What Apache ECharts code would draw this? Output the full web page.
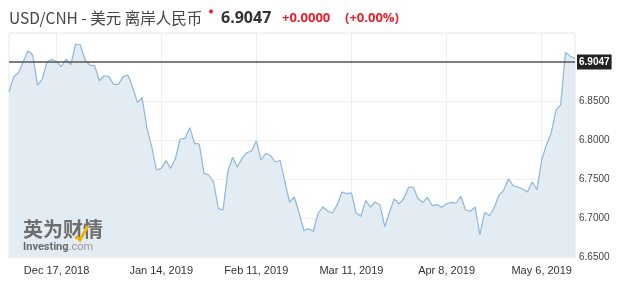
<!DOCTYPE html>
<html>
<head>
<meta charset="utf-8">
<script src="https://cdn.jsdelivr.net/npm/echarts@6/dist/echarts.min.js"></script>
<style>
  html, body { margin: 0; padding: 0; background: #fff; }
  #chart { width: 630px; height: 287px; }
</style>
</head>
<body>
<div id="chart"></div>
<script>
// Trading days shown on the x axis
const dates = [
  '2018-12-03','2018-12-04','2018-12-05','2018-12-06','2018-12-07',
  '2018-12-10','2018-12-11','2018-12-12','2018-12-13','2018-12-14',
  '2018-12-17','2018-12-18','2018-12-19','2018-12-20','2018-12-21',
  '2018-12-23','2018-12-24','2018-12-25','2018-12-26','2018-12-27','2018-12-28',
  '2018-12-30','2018-12-31','2019-01-01','2019-01-02','2019-01-03','2019-01-04',
  '2019-01-07','2019-01-08','2019-01-09','2019-01-10','2019-01-11',
  '2019-01-14','2019-01-15','2019-01-16','2019-01-17','2019-01-18',
  '2019-01-21','2019-01-22','2019-01-23','2019-01-24','2019-01-25',
  '2019-01-28','2019-01-29','2019-01-30','2019-01-31','2019-02-01',
  '2019-02-04','2019-02-05','2019-02-06','2019-02-07','2019-02-08',
  '2019-02-11','2019-02-12','2019-02-13','2019-02-14','2019-02-15',
  '2019-02-18','2019-02-19','2019-02-20','2019-02-21','2019-02-22',
  '2019-02-25','2019-02-26','2019-02-27','2019-02-28','2019-03-01',
  '2019-03-04','2019-03-05','2019-03-06','2019-03-07','2019-03-08',
  '2019-03-11','2019-03-12','2019-03-13','2019-03-14','2019-03-15',
  '2019-03-18','2019-03-19','2019-03-20','2019-03-21','2019-03-22',
  '2019-03-25','2019-03-26','2019-03-27','2019-03-28','2019-03-29',
  '2019-04-01','2019-04-02','2019-04-03','2019-04-04','2019-04-05',
  '2019-04-08','2019-04-09','2019-04-10','2019-04-11','2019-04-12',
  '2019-04-15','2019-04-16','2019-04-17','2019-04-18','2019-04-19',
  '2019-04-22','2019-04-23','2019-04-24','2019-04-25','2019-04-26',
  '2019-04-29','2019-04-30','2019-05-01','2019-05-02','2019-05-03',
  '2019-05-06','2019-05-07','2019-05-08','2019-05-09','2019-05-10',
  '2019-05-13','2019-05-14','2019-05-15'
];

// USD/CNH closing rate per day
const rates = [
  6.8619, 6.8812, 6.8863, 6.9004, 6.9145,
  6.9090, 6.8705, 6.8782, 6.9004, 6.9035,
  6.9004, 6.8940, 6.9038, 6.8962, 6.9231,
  6.9218, 6.9026, 6.8962, 6.8953, 6.8760, 6.8824,
  6.8812, 6.8714, 6.8714, 6.8812, 6.8833, 6.8676,
  6.8483, 6.8542, 6.8150, 6.7914, 6.7615,
  6.7637, 6.7735, 6.7637, 6.7765, 6.8013,
  6.8022, 6.8158, 6.7958, 6.7949, 6.7573,
  6.7551, 6.7465, 6.7124, 6.7103, 6.7594,
  6.7778, 6.7650, 6.7765, 6.7837, 6.7859,
  6.7990, 6.7744, 6.7830, 6.7799, 6.7718,
  6.7737, 6.7471, 6.7201, 6.7269, 6.7064,
  6.6842, 6.6863, 6.6830, 6.7064, 6.7141,
  6.7086, 6.7064, 6.7171, 6.7333, 6.7312,
  6.7321, 6.7064, 6.7022, 6.7222, 6.7141,
  6.7205, 6.7171, 6.6888, 6.7077, 6.7244,
  6.7183, 6.7247, 6.7394, 6.7397, 6.7247,
  6.7201, 6.7265, 6.7158, 6.7171, 6.7137,
  6.7183, 6.7201, 6.7192, 6.7278, 6.7106,
  6.7086, 6.7141, 6.6786, 6.7071, 6.7029,
  6.7128, 6.7291, 6.7355, 6.7500, 6.7414,
  6.7397, 6.7372, 6.7333, 6.7462, 6.7363,
  6.7747, 6.7940, 6.8090, 6.8381, 6.8453,
  6.9124, 6.9073, 6.9047
];

// Dates that get a label and a vertical grid line
const labelDates = ['2018-12-17','2019-01-14','2019-02-11','2019-03-11','2019-04-08','2019-05-06'];

// Price-axis range and step
const yMin = 6.65;
const yMax = 6.9372;
const yStep = 0.05;

const lastRate = 6.9047;
const changeText = '+0.0000';
const changePct = '(+0.00%)';
const titleText = 'USD/CNH - 美元 离岸人民币';

const monthNames = ['Jan','Feb','Mar','Apr','May','Jun','Jul','Aug','Sep','Oct','Nov','Dec'];
function fmtDate(s) {
  const [y, m, d] = s.split('-').map(Number);
  return monthNames[m - 1] + ' ' + d + ', ' + y;
}
const showAt = (idx, val) => labelDates.indexOf(val) >= 0;

const chart = echarts.init(document.getElementById('chart'), null, { renderer: 'canvas' });

chart.setOption({
  animation: false,
  backgroundColor: '#ffffff',
  grid: { left: 9, right: 55, top: 33, bottom: 30, show: true, borderColor: '#e8e8e8', borderWidth: 1, backgroundColor: 'transparent' },
  graphic: [
    {
      type: 'text', left: 9, top: 10,
      style: { text: titleText, fontSize: 15.5, fontFamily: '"Noto Sans CJK SC", "Noto Sans", sans-serif', fill: '#454545' }
    },
    {
      type: 'polygon', shape: { points: [[211, 9], [213.5, 11.5], [211, 14], [208.5, 11.5]] },
      style: { fill: '#e8202e' }
    },
    {
      type: 'text', left: 221, top: 10,
      style: { text: String(lastRate.toFixed(4)), fontSize: 16, fontWeight: 'bold', fontFamily: '"Open Sans", "Noto Sans", sans-serif', fill: '#333333' }
    },
    {
      type: 'text', left: 282, top: 12,
      style: { text: changeText, fontSize: 13, fontWeight: 'bold', fontFamily: '"Open Sans", "Noto Sans", sans-serif', fill: '#e8202e' }
    },
    {
      type: 'text', left: 345, top: 12,
      style: { text: changePct, fontSize: 13, fontWeight: 'bold', fontFamily: '"Open Sans", "Noto Sans", sans-serif', fill: '#e8202e' }
    },
    {
      type: 'text', left: 23, top: 219, z: 100,
      style: { text: '英为财情', fontSize: 20, fontWeight: 'bold', fontFamily: '"Noto Sans CJK SC", sans-serif', fill: '#6e6e6e' }
    },
    {
      type: 'polyline', z: 101,
      shape: { points: [[76, 236], [80, 240], [88, 226]] },
      style: { stroke: '#f2b200', lineWidth: 3, fill: null }
    },
    {
      type: 'text', left: 23, top: 242, z: 100,
      style: {
        text: '{a|Investing}{b|.com}',
        rich: {
          a: { fontSize: 11, fontWeight: 'bold', fontFamily: 'Roboto, "Liberation Sans", sans-serif', fill: '#6a6a6a' },
          b: { fontSize: 11, fontFamily: 'Roboto, "Liberation Sans", sans-serif', fill: '#9a9a9a' }
        }
      }
    }
  ],
  xAxis: {
    type: 'category',
    data: dates,
    boundaryGap: false,
    axisLine: { show: false },
    axisTick: { show: false },
    axisLabel: {
      interval: showAt,
      formatter: fmtDate,
      margin: 8,
      fontSize: 11,
      color: '#333',
      fontFamily: '"Liberation Sans", Arial, sans-serif'
    },
    splitLine: { show: true, interval: showAt, lineStyle: { color: '#eeeeee', width: 1 } }
  },
  yAxis: {
    type: 'value',
    position: 'right',
    min: yMin,
    max: yMax,
    interval: yStep,
    axisLine: { show: false },
    axisTick: { show: false },
    axisLabel: {
      margin: 4,
      fontSize: 10,
      color: '#444',
      fontFamily: '"Liberation Sans", Arial, sans-serif',
      showMaxLabel: false,
      formatter: v => (Math.abs(v - 6.9) < 1e-6 || v > 6.93) ? '' : v.toFixed(4)
    },
    splitLine: { show: true, lineStyle: { color: '#f0f0f0', width: 1 } }
  },
  series: [{
    type: 'line',
    data: rates,
    symbol: 'none',
    smooth: false,
    lineStyle: { color: '#8db6dc', width: 1.2 },
    areaStyle: { color: '#e3ecf3', opacity: 1 },
    markLine: {
      silent: true,
      symbol: 'none',
      data: [{ yAxis: lastRate }],
      lineStyle: { color: '#555555', width: 1.5, type: 'solid' },
      label: {
        position: 'end',
        distance: 2,
        formatter: lastRate.toFixed(4),
        backgroundColor: '#222222',
        color: '#ffffff',
        fontWeight: 'bold',
        fontSize: 10,
        fontFamily: '"Liberation Sans", Arial, sans-serif',
        padding: [3, 2, 2, 2]
      }
    }
  }]
});
</script>
</body>
</html>
